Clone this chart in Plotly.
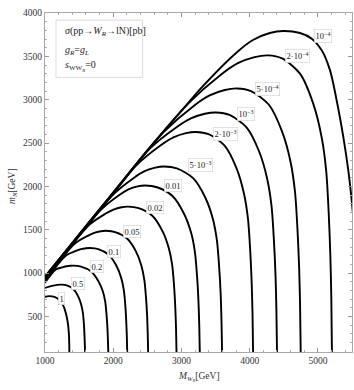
import plotly.graph_objects as go

# contour levels and their labels
levels = ["1e-4", "2e-4", "5e-4", "1e-3", "2e-3", "5e-3", "0.01", "0.02", "0.05", "0.1", "0.2", "0.5", "1"]
label_text = ["10<sup>−4</sup>", "2·10<sup>−4</sup>", "5·10<sup>−4</sup>", "10<sup>−3</sup>",
              "2·10<sup>−3</sup>", "5·10<sup>−3</sup>", "0.01", "0.02", "0.05", "0.1", "0.2", "0.5", "1"]
label_x = [5076, 4702, 4262, 3940, 3639, 3273, 2870, 2613, 2271, 2004, 1758, 1484, 1249]
label_y = [3731, 3503, 3127, 2838, 2605, 2245, 2010, 1762, 1479, 1251, 1075, 885, 702]

# contour curves (M_WR [GeV], m_N [GeV])
c_1e4_x = [1000, 2000, 2500, 3000, 3304, 3801, 4048, 4296, 4495, 4738, 4910, 5056, 5178, 5285, 5373, 5446, 5496, 5550, 5590, 5610]
c_1e4_y = [960, 1930, 2415, 2870, 3147, 3539, 3688, 3769, 3792, 3769, 3704, 3569, 3338, 2954, 2568, 2183, 1837, 1300, 700, 80]
c_2e4_x = [1000, 2000, 2500, 3090, 3582, 3827, 4072, 4269, 4475, 4738, 4934, 5056, 5122, 5159, 5183, 5197, 5206]
c_2e4_y = [957, 1927, 2412, 2949, 3291, 3421, 3491, 3511, 3476, 3300, 2949, 2563, 2177, 1685, 1194, 702, 80]
c_5e4_x = [1000, 2000, 2500, 2742, 3189, 3413, 3636, 3815, 4020, 4282, 4477, 4599, 4664, 4701, 4725, 4739, 4748]
c_5e4_y = [954, 1924, 2409, 2629, 2934, 3049, 3112, 3130, 3099, 2942, 2629, 2285, 1941, 1502, 1064, 626, 80]
c_1e3_x = [1000, 2000, 2522, 2933, 3138, 3343, 3507, 3704, 3954, 4142, 4258, 4321, 4356, 4379, 4392, 4401]
c_1e3_y = [950, 1920, 2425, 2685, 2784, 2838, 2853, 2824, 2682, 2397, 2083, 1769, 1369, 970, 571, 80]
c_2e3_x = [1000, 2000, 2328, 2697, 2882, 3066, 3214, 3398, 3632, 3808, 3916, 3975, 4008, 4029, 4042, 4050]
c_2e3_y = [946, 1916, 2234, 2474, 2565, 2614, 2628, 2602, 2470, 2208, 1918, 1629, 1261, 894, 526, 80]
c_5e3_x = [1000, 1984, 2301, 2460, 2618, 2745, 2932, 3171, 3349, 3460, 3519, 3553, 3575, 3587, 3596]
c_5e3_y = [941, 1895, 2098, 2175, 2217, 2229, 2207, 2095, 1872, 1627, 1382, 1070, 758, 446, 80]
c_001_x = [1000, 1819, 2089, 2223, 2358, 2466, 2643, 2868, 3036, 3141, 3197, 3229, 3249, 3261, 3269]
c_001_y = [935, 1729, 1900, 1965, 2000, 2010, 1990, 1889, 1688, 1467, 1246, 965, 683, 402, 80]
c_002_x = [1000, 1646, 1884, 2003, 2122, 2217, 2373, 2573, 2722, 2814, 2864, 2892, 2910, 2921, 2928]
c_002_y = [928, 1555, 1684, 1733, 1760, 1767, 1749, 1661, 1484, 1290, 1096, 848, 601, 353, 80]
c_005_x = [1000, 1434, 1626, 1721, 1817, 1894, 2030, 2203, 2333, 2413, 2456, 2481, 2497, 2506, 2512]
c_005_y = [918, 1339, 1430, 1464, 1483, 1488, 1473, 1399, 1250, 1086, 923, 714, 506, 298, 80]
c_01_x = [1000, 1304, 1452, 1526, 1601, 1660, 1780, 1933, 2047, 2118, 2156, 2178, 2191, 2200, 2205]
c_01_y = [905, 1200, 1255, 1276, 1287, 1290, 1277, 1213, 1084, 942, 800, 619, 439, 258, 80]
c_02_x = [1000, 1158, 1265, 1319, 1372, 1415, 1528, 1672, 1779, 1846, 1882, 1902, 1915, 1923, 1928]
c_02_y = [890, 1043, 1069, 1079, 1084, 1086, 1075, 1021, 912, 793, 673, 521, 369, 217, 80]
c_05_x = [1000, 1100, 1180, 1245, 1320, 1416, 1488, 1532, 1556, 1570, 1578, 1584, 1587]
c_05_y = [829, 852, 864, 867, 858, 815, 728, 633, 538, 416, 295, 173, 80]
c_1_x = [1000, 1060, 1147, 1220, 1268, 1308, 1334, 1349, 1355, 1357]
c_1_y = [727, 735, 723, 683, 624, 532, 428, 313, 197, 80]

x_ticks = [1000, 2000, 3000, 4000, 5000]
y_ticks = [500, 1000, 1500, 2000, 2500, 3000, 3500, 4000]

curves = [(c_1e4_x, c_1e4_y), (c_2e4_x, c_2e4_y), (c_5e4_x, c_5e4_y), (c_1e3_x, c_1e3_y),
          (c_2e3_x, c_2e3_y), (c_5e3_x, c_5e3_y), (c_001_x, c_001_y), (c_002_x, c_002_y),
          (c_005_x, c_005_y), (c_01_x, c_01_y), (c_02_x, c_02_y), (c_05_x, c_05_y), (c_1_x, c_1_y)]

SERIF = "Liberation Serif, Times New Roman, serif"

fig = go.Figure()
for (cx, cy), name in zip(curves, levels):
    fig.add_trace(go.Scatter(x=cx, y=cy, mode="lines", name=name,
                             line=dict(color="black", width=1.9, shape="spline", smoothing=0.8),
                             hoverinfo="skip", showlegend=False))

annotations = []
for t, lx, ly in zip(label_text, label_x, label_y):
    annotations.append(dict(x=lx, y=ly, xref="x", yref="y", text=t, showarrow=False,
                            font=dict(family=SERIF, size=8.5, color="#222"),
                            bgcolor="white", bordercolor="#d0d0d0", borderwidth=0.6, borderpad=1))

# legend-like text box
annotations += [
    dict(x=0.058, y=0.945, xref="paper", yref="paper", xanchor="left", yanchor="middle", showarrow=False,
         text="<i>σ</i>(pp→<i>W</i><sub><i>R</i></sub>→lN)[pb]", font=dict(family=SERIF, size=10, color="#222")),
    dict(x=0.058, y=0.889, xref="paper", yref="paper", xanchor="left", yanchor="middle", showarrow=False,
         text="<i>g</i><sub><i>R</i></sub>=<i>g</i><sub><i>L</i></sub>", font=dict(family=SERIF, size=10, color="#222")),
    dict(x=0.058, y=0.844, xref="paper", yref="paper", xanchor="left", yanchor="middle", showarrow=False,
         text="<i>s</i><sub>WW<sub><i>R</i></sub></sub>=0", font=dict(family=SERIF, size=10, color="#222")),
    dict(x=0.5, y=-0.074, xref="paper", yref="paper", xanchor="center", yanchor="middle", showarrow=False,
         text="<i>M</i><sub><i>W</i><sub><i>R</i></sub></sub>[GeV]", font=dict(family=SERIF, size=9.5, color="#333")),
    dict(x=-0.104, y=0.49, xref="paper", yref="paper", xanchor="center", yanchor="middle", showarrow=False,
         textangle=-90, text="<i>m</i><sub><i>N</i></sub>[GeV]", font=dict(family=SERIF, size=9.5, color="#333")),
]

fig.update_layout(
    template="none",
    width=354, height=390,
    margin=dict(l=45, r=2, t=13, b=38, autoexpand=False),
    plot_bgcolor="white", paper_bgcolor="white",
    annotations=annotations,
    shapes=[dict(type="rect", xref="paper", yref="paper", x0=0.0358, x1=0.318, y0=0.810, y1=0.979,
                 line=dict(color="#d0d0d0", width=0.8), fillcolor="white", layer="below")],
    xaxis=dict(range=[1000, 5500], tickvals=x_ticks, ticks="inside", ticklen=4, tickcolor="#999",
               automargin=False,
               showline=True, linecolor="#aaa", linewidth=1, mirror="allticks", showgrid=False, zeroline=False,
               tickfont=dict(family=SERIF, size=9.5, color="#333"),
               minor=dict(ticks="inside", ticklen=2, dtick=200, tick0=1000, tickcolor="#aaa", showgrid=False)),
    yaxis=dict(range=[90, 4000], tickvals=y_ticks, ticks="inside", ticklen=4, tickcolor="#999",
               automargin=False,
               showline=True, linecolor="#aaa", linewidth=1, mirror="allticks", showgrid=False, zeroline=False,
               tickfont=dict(family=SERIF, size=9.5, color="#333"),
               minor=dict(ticks="inside", ticklen=2, dtick=100, tick0=0, tickcolor="#aaa", showgrid=False)),
)

fig.write_html("out.html", config={"displayModeBar": False, "staticPlot": True},
               post_script="document.body.style.margin='0px';document.body.style.overflow='hidden';")
